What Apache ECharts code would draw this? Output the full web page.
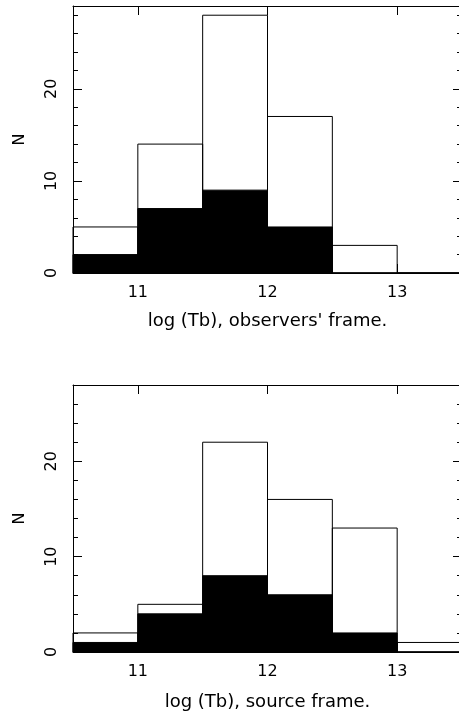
<!DOCTYPE html>
<html>
<head>
<meta charset="utf-8">
<script src="https://cdn.jsdelivr.net/npm/echarts@6/dist/echarts.min.js"></script>
<style>
  html, body { margin: 0; padding: 0; background: #fff; }
  #chart { width: 459px; height: 723px; }
</style>
</head>
<body>
<div id="chart"></div>
<script>
// bin edges of log(Tb)
var binEdges = [10.5, 11, 11.5, 12, 12.5, 13, 13.5];
var xTicks = [11, 12, 13];

// observers' frame: all sources (open) and subset (filled)
var obsAll = [5, 14, 28, 17, 3, 0];
var obsFilled = [2, 7, 9, 5, 0, 0];

// source frame
var srcAll = [2, 5, 22, 16, 13, 1];
var srcFilled = [1, 4, 8, 6, 2, 0];

var yMax = [29, 28];
var xNames = ["log (Tb), observers' frame.", "log (Tb), source frame."];
var nameGaps = [39, 41];

var font = "DejaVu Sans";

function histSeries(idx, values, filled) {
  return {
    type: "custom",
    xAxisIndex: idx * 2,
    yAxisIndex: idx * 2,
    data: values.map(function (v, i) {
      return [binEdges[i], binEdges[i + 1], v];
    }),
    encode: { x: [0, 1], y: 2 },
    z: filled ? 3 : 2,
    renderItem: function (params, api) {
      var p0 = api.coord([api.value(0), api.value(2)]);
      var p1 = api.coord([api.value(1), 0]);
      return {
        type: "rect",
        shape: { x: p0[0], y: p0[1], width: p1[0] - p0[0], height: p1[1] - p0[1] },
        style: { fill: filled ? "#000" : "none", stroke: "#000", lineWidth: 1 },
      };
    },
  };
}

function bottomX(idx) {
  return {
    type: "value",
    gridIndex: idx,
    min: 10.5,
    max: 13.5,
    position: "bottom",
    name: xNames[idx],
    nameLocation: "middle",
    nameGap: nameGaps[idx],
    nameTextStyle: { color: "#000", fontFamily: font, fontSize: 18 },
    axisLine: { show: true, onZero: false, lineStyle: { color: "#000", width: 1 } },
    axisTick: { show: true, inside: true, length: 9, customValues: xTicks, lineStyle: { color: "#000" } },
    axisLabel: { show: true, customValues: xTicks, margin: 12, color: "#000", fontFamily: font, fontSize: 16 },
    splitLine: { show: false },
  };
}

function topX(idx) {
  return {
    type: "value",
    gridIndex: idx,
    min: 10.5,
    max: 13.5,
    position: "top",
    axisLine: { show: true, onZero: false, lineStyle: { color: "#000", width: 1 } },
    axisTick: { show: true, inside: true, length: 9, customValues: xTicks, lineStyle: { color: "#000" } },
    axisLabel: { show: false },
    splitLine: { show: false },
  };
}

function leftY(idx) {
  return {
    type: "value",
    gridIndex: idx,
    min: 0,
    max: yMax[idx],
    interval: 10,
    position: "left",
    name: "N",
    nameLocation: "middle",
    nameRotate: 90,
    nameGap: 45,
    nameTextStyle: { color: "#000", fontFamily: font, fontSize: 16 },
    axisLine: { show: true, onZero: false, lineStyle: { color: "#000", width: 1 } },
    axisTick: { show: true, inside: true, length: 9, lineStyle: { color: "#000" } },
    minorTick: { show: true, splitNumber: 5, length: 5, lineStyle: { color: "#000" } },
    axisLabel: { show: true, rotate: 90, margin: 13, color: "#000", fontFamily: font, fontSize: 16, showMaxLabel: false },
    splitLine: { show: false },
  };
}

function rightY(idx) {
  return {
    type: "value",
    gridIndex: idx,
    min: 0,
    max: yMax[idx],
    interval: 10,
    position: "right",
    axisLine: { show: true, onZero: false, lineStyle: { color: "#000", width: 1 } },
    axisTick: { show: true, inside: true, length: 9, lineStyle: { color: "#000" } },
    minorTick: { show: true, splitNumber: 5, length: 5, lineStyle: { color: "#000" } },
    axisLabel: { show: false },
    splitLine: { show: false },
  };
}

var chart = echarts.init(document.getElementById("chart"), null, { renderer: "canvas" });

chart.setOption({
  backgroundColor: "#fff",
  animation: false,
  grid: [
    { left: 73, top: 6, width: 389, height: 267, outerBoundsMode: "none" },
    { left: 73, top: 385, width: 389, height: 267, outerBoundsMode: "none" },
  ],
  xAxis: [bottomX(0), topX(0), bottomX(1), topX(1)],
  yAxis: [leftY(0), rightY(0), leftY(1), rightY(1)],
  series: [
    histSeries(0, obsAll, false),
    histSeries(0, obsFilled, true),
    histSeries(1, srcAll, false),
    histSeries(1, srcFilled, true),
  ],
});
</script>
</body>
</html>
